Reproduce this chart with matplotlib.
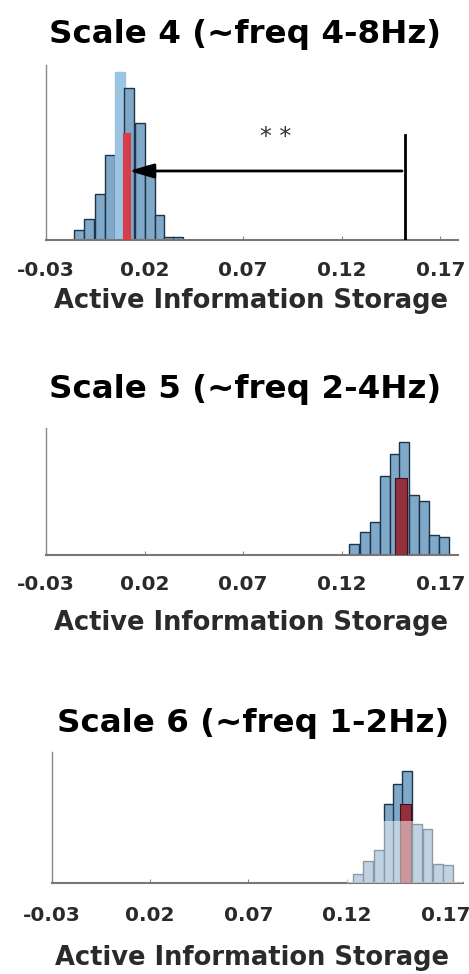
import matplotlib.pyplot as plt
from matplotlib.patches import Rectangle

plt.rcParams.update({
    "font.family": "DejaVu Sans",
    "font.weight": "bold",
})

# histogram data (bin centres, bar heights)
scale4_centers = [-0.0132, -0.0081, -0.0025, 0.0026, 0.0074, 0.0122, 0.0176, 0.0226, 0.0275, 0.0323, 0.0371]
scale4_counts = [10, 21, 46, 85, 168, 152, 117, 74, 25, 3, 3]
scale4_red = (0.0107, 107)

scale5_centers = [0.1263, 0.1316, 0.1369, 0.1420, 0.1469, 0.1515, 0.1566, 0.1619, 0.1670, 0.1718]
scale5_counts = [11, 23, 33, 79, 101, 113, 60, 54, 20, 18]
scale5_red = (0.1501, 77)

scale6_centers = [0.1256, 0.1309, 0.1364, 0.1415, 0.1459, 0.1507, 0.1558, 0.1610, 0.1662, 0.1713]
scale6_counts = [9, 22, 33, 79, 99, 112, 59, 54, 19, 18]
scale6_red = (0.1498, 79)

titles = ["Scale 4 (~freq 4-8Hz)", "Scale 5 (~freq 2-4Hz)", "Scale 6 (~freq 1-2Hz)"]
xticks = [-0.03, 0.02, 0.07, 0.12, 0.17]
xticklabels = ["-0.03", "0.02", "0.07", "0.12", "0.17"]

# arrow / significance marker in the first panel
arrow_from = 0.152
arrow_y = 69
vline_top = 105
star_x, star_y = 0.0865, 103

blue = "#7fa8c9"
edge = "#1f3447"

fig = plt.figure(figsize=(4.69, 9.74), dpi=100)

positions = [
    [0.0981, 0.7536, 0.8785, 0.1797],
    [0.0981, 0.4302, 0.8785, 0.1304],
    [0.1102, 0.0937, 0.8770, 0.1345],
]
ylims = [175, 127, 131]
title_pads = [16, 21.6, 14.4]
title_x = [0.483, 0.483, 0.49]
tick_pads = [15, 14.5, 17]
label_y = [-0.277, -0.433, -0.475]
label_x = [0.498, 0.498, 0.486]

data = [
    (scale4_centers, scale4_counts, scale4_red, 0.0049, 0.0034, "#d63d4a", "#d63d4a"),
    (scale5_centers, scale5_counts, scale5_red, 0.0050, 0.0060, "#93303b", "#3d1118"),
    (scale6_centers, scale6_counts, scale6_red, 0.0050, 0.0056, "#93303b", "#3d1118"),
]

for i, (centers, counts, red, bw, rw, rc, rec) in enumerate(data):
    ax = fig.add_axes(positions[i])
    colors = [blue] * len(centers)
    edges = [edge] * len(centers)
    if i == 0:
        # tallest bin is drawn lighter with no outline in the original
        k = counts.index(max(counts))
        colors[k] = "#9cc4e3"
        edges[k] = "#9cc4e3"
    ax.bar(centers, counts, width=bw, color=colors, edgecolor=edges, linewidth=1.0, zorder=2)
    ax.bar([red[0]], [red[1]], width=rw, color=rc, edgecolor=rec, linewidth=0.8, zorder=3)

    if i == 0:
        ax.plot([arrow_from, arrow_from], [0, vline_top], color="black", lw=2, zorder=4)
        ax.annotate("", xy=(red[0], arrow_y), xytext=(arrow_from, arrow_y),
                    arrowprops=dict(arrowstyle="-|>,head_length=0.75,head_width=0.22",
                                    lw=2, color="black", mutation_scale=20), zorder=4)
        ax.text(star_x, star_y, "* *", ha="center", va="center", fontsize=17,
                fontweight="normal", color="#333333")
    if i == 2:
        # washed-out lower part of the last panel's bars
        ax.add_patch(Rectangle((0.12, 0), 0.06, 62, facecolor="white", alpha=0.5,
                               edgecolor="none", zorder=5))

    ax.set_xlim(-0.03, 0.179)
    ax.set_ylim(0, ylims[i])
    ax.set_yticks([])
    ax.set_xticks(xticks)
    ax.set_xticklabels(xticklabels)
    ax.tick_params(axis="x", direction="in", length=3, color="#888888", pad=tick_pads[i],
                   labelsize=14.5, labelcolor="#2a2a2a")
    for s in ["top", "right"]:
        ax.spines[s].set_visible(False)
    ax.spines["left"].set_color("#888888")
    ax.spines["left"].set_linewidth(1.0)
    ax.spines["bottom"].set_color("#777777")
    ax.spines["bottom"].set_linewidth(1.5)

    ax.set_title(titles[i], fontsize=23.4, fontweight="bold", pad=title_pads[i], x=title_x[i])
    ax.set_xlabel("Active Information Storage", fontsize=18.5, fontweight="bold", color="#2a2a2a")
    ax.xaxis.set_label_coords(label_x[i], label_y[i])

plt.savefig("out.png", dpi=100)
